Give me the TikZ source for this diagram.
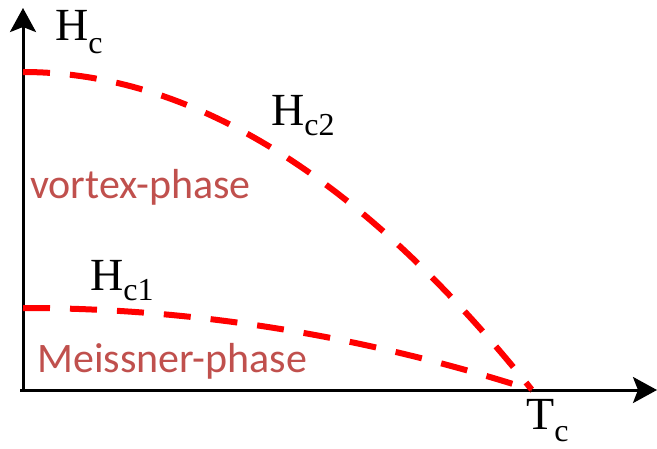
\documentclass[tikz,border=0pt]{standalone}
\usepackage{fontspec}
\setmainfont{Liberation Serif}
\newfontfamily\calibri{Carlito}
\usetikzlibrary{arrows.meta}
\definecolor{phasered}{RGB}{192,80,77}
\definecolor{curvered}{RGB}{255,0,0}
\tikzset{
  axisline/.style={line width=3pt, black, -{Stealth[length=24pt,width=26pt,inset=5pt]}},
  critcurve/.style={line width=6pt, curvered, dash pattern=on 27pt off 20pt},
  serlabel/.style={anchor=base west, inner sep=0pt, font=\fontsize{46}{46}\selectfont},
  phaselabel/.style={anchor=base west, inner sep=0pt, text=phasered, font=\calibri\fontsize{42}{42}\selectfont}
}
\newcommand{\subtxt}[2]{\raisebox{-#1}{\fontsize{32}{32}\selectfont #2}}
\begin{document}
\begin{tikzpicture}[x=1pt,y=-1pt]
\useasboundingbox (0,0) rectangle (657,448);
\coordinate (origin) at (23,390);
\coordinate (ytip) at (23,8);
\coordinate (xtip) at (657,390);
\coordinate (xstart) at (20,390);
\draw[axisline] (origin) -- (ytip);
\draw[axisline] (xstart) -- (xtip);
\draw[critcurve] plot[domain=0:1, samples=80] ({23+509*\x},{390-318*(1-\x*\x)});
\draw[critcurve] plot[domain=0:1, samples=80] ({23+509*\x},{390-82*(1-\x*\x)});
\node[serlabel] (hc) at (55,40) {H\subtxt{13pt}{c}};
\node[serlabel] (hc2) at (271,125) {H\subtxt{10pt}{c2}};
\node[serlabel] (hc1) at (90,290) {H\subtxt{10pt}{c1}};
\node[serlabel] (tc) at (526,429) {T\subtxt{12pt}{c}};
\node[phaselabel] (vortex) at (30,198) {vortex-phase};
\node[phaselabel] (meissner) at (37,372) {Meissner-phase};
\end{tikzpicture}
\end{document}
